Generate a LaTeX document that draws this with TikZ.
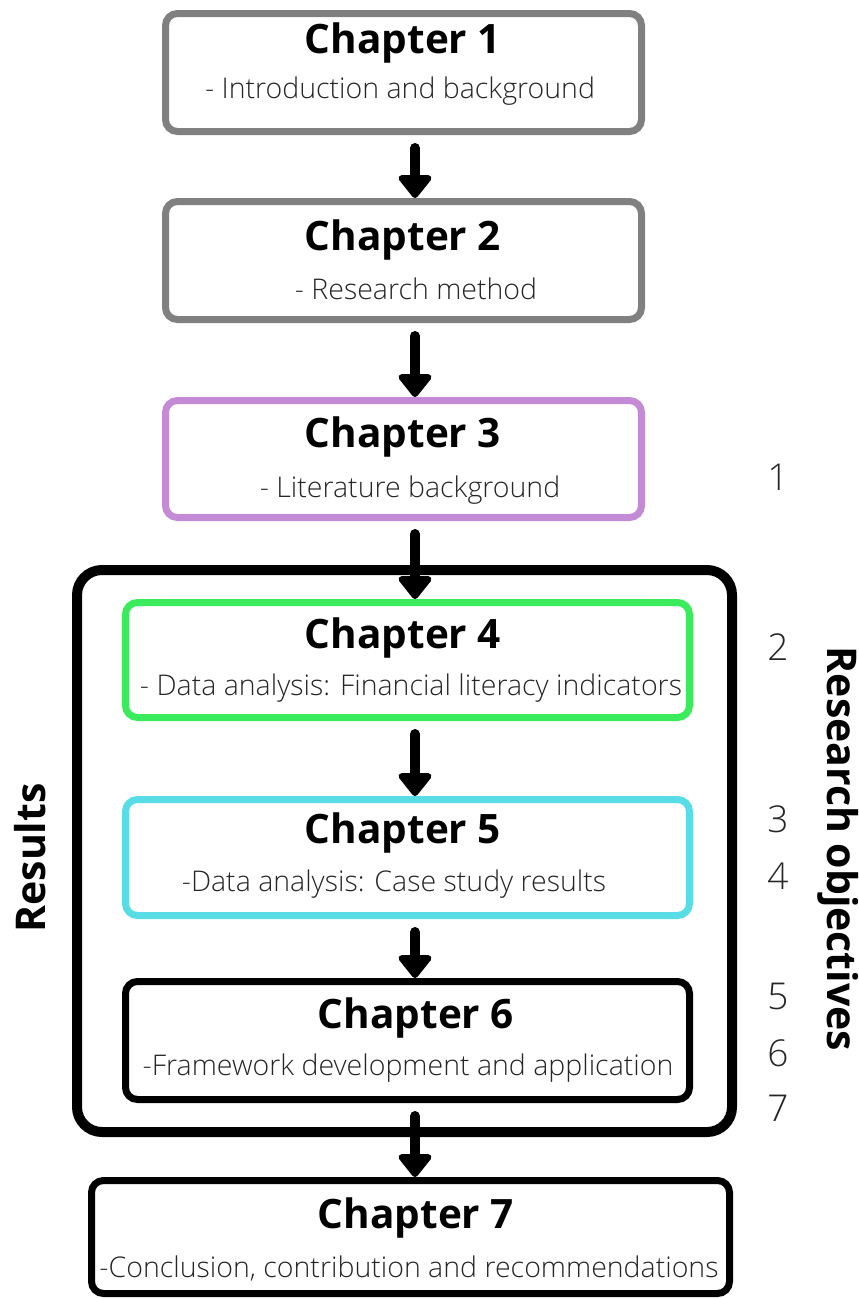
\documentclass[tikz,border=0pt]{standalone}
\usepackage{fontspec}
\usetikzlibrary{arrows.meta}
\IfFontExistsTF{Open Sans Light}
  {\newfontfamily\bodyfont{Open Sans Light}}
  {\newfontfamily\bodyfont{Open Sans}}
\IfFontExistsTF{Open Sans ExtraBold}
  {\newfontfamily\headfont{Open Sans ExtraBold}}
  {\newfontfamily\headfont{Open Sans}[UprightFont=* Bold]}
\definecolor{chgray}{HTML}{808080}
\definecolor{chpurple}{HTML}{C48AD6}
\definecolor{chgreen}{HTML}{3AEC5B}
\definecolor{chcyan}{HTML}{58DDE7}
\begin{document}
\begin{tikzpicture}[x=1pt,y=-1pt,
  chbox/.style={draw, line width=7pt, rounded corners=12pt, inner sep=0pt},
  title/.style={font=\headfont\fontsize{40.5}{46}\selectfont, inner sep=0pt},
  sub/.style={font=\bodyfont\fontsize{28.5}{34}\selectfont, inner sep=0pt, text=black!85},
  num/.style={font=\bodyfont\fontsize{37}{42}\selectfont, inner sep=0pt, text=black!85},
  side/.style={font=\headfont\fontsize{41}{46}\selectfont, inner sep=0pt},
  flow/.style={line width=10pt, line cap=round, shorten <=13pt,
    -{Triangle[width=38pt,length=25pt,round]}}]
\useasboundingbox (0,0) rectangle (859,1299);

% outer frame around the results chapters
\node[draw, line width=10pt, rounded corners=25pt, minimum width=655pt, minimum height=562pt]
  (results) at (404.5,851) {};

% chapter boxes
\node[chbox, draw=chgray, minimum width=476pt, minimum height=118pt] (b1) at (403.5,72.5) {};
\node[chbox, draw=chgray, minimum width=476pt, minimum height=118pt] (b2) at (403.5,260.5) {};
\node[chbox, draw=chpurple, minimum width=476pt, minimum height=117pt] (b3) at (403.5,459) {};
\node[chbox, draw=chgreen, minimum width=564pt, minimum height=115pt] (b4) at (407.5,660) {};
\node[chbox, draw=chcyan, minimum width=564pt, minimum height=116pt] (b5) at (407.5,857.5) {};
\node[chbox, draw=black, minimum width=564pt, minimum height=118pt] (b6) at (407.5,1040.5) {};
\node[chbox, draw=black, minimum width=638pt, minimum height=113pt] (b7) at (410.5,1237) {};

% titles and descriptions
\node[title] (t1) at (403,43) {Chapter 1};
\node[sub] (s1) at (400,91) {- Introduction and background};
\node[title] (t2) at (403,240) {Chapter 2};
\node[sub] (s2) at (416,289) {- Research method};
\node[title] (t3) at (403,437) {Chapter 3};
\node[sub] (s3) at (410,490) {- Literature background};
\node[title] (t4) at (403,638) {Chapter 4};
\node[sub] (s4) at (411,688) {- Data analysis: Financial literacy indicators};
\node[title] (t5) at (403,833) {Chapter 5};
\node[sub] (s5) at (394,884) {-Data analysis: Case study results};
\node[title] (t6) at (416,1018) {Chapter 6};
\node[sub] (s6) at (408,1068) {-Framework development and application};
\node[title] (t7) at (416,1218) {Chapter 7};
\node[sub] (s7) at (409,1268) {-Conclusion, contribution and recommendations};

% research objective numbers
\node[num] (n1) at (778,477) {1};
\node[num] (n2) at (778,647) {2};
\node[num] (n3) at (778,819) {3};
\node[num] (n4) at (778,876) {4};
\node[num] (n5) at (778,996) {5};
\node[num] (n6) at (778,1053) {6};
\node[num] (n7) at (778,1108) {7};

% side labels
\node[side, rotate=90] (lres) at (30,858) {Results};
\node[side, rotate=-90] (lobj) at (838,849) {Research objectives};

% flow arrows
\coordinate (axis) at (415,0);
\draw[flow] (b1.south -| axis) -- (b2.north -| axis);
\draw[flow] (b2.south -| axis) -- (b3.north -| axis);
\draw[flow] (b3.south -| axis) -- (b4.north -| axis);
\draw[flow] (b4.south -| axis) -- (b5.north -| axis);
\draw[flow] (b5.south -| axis) -- (b6.north -| axis);
\draw[flow] (b6.south -| axis) -- (b7.north -| axis);
\end{tikzpicture}
\end{document}
